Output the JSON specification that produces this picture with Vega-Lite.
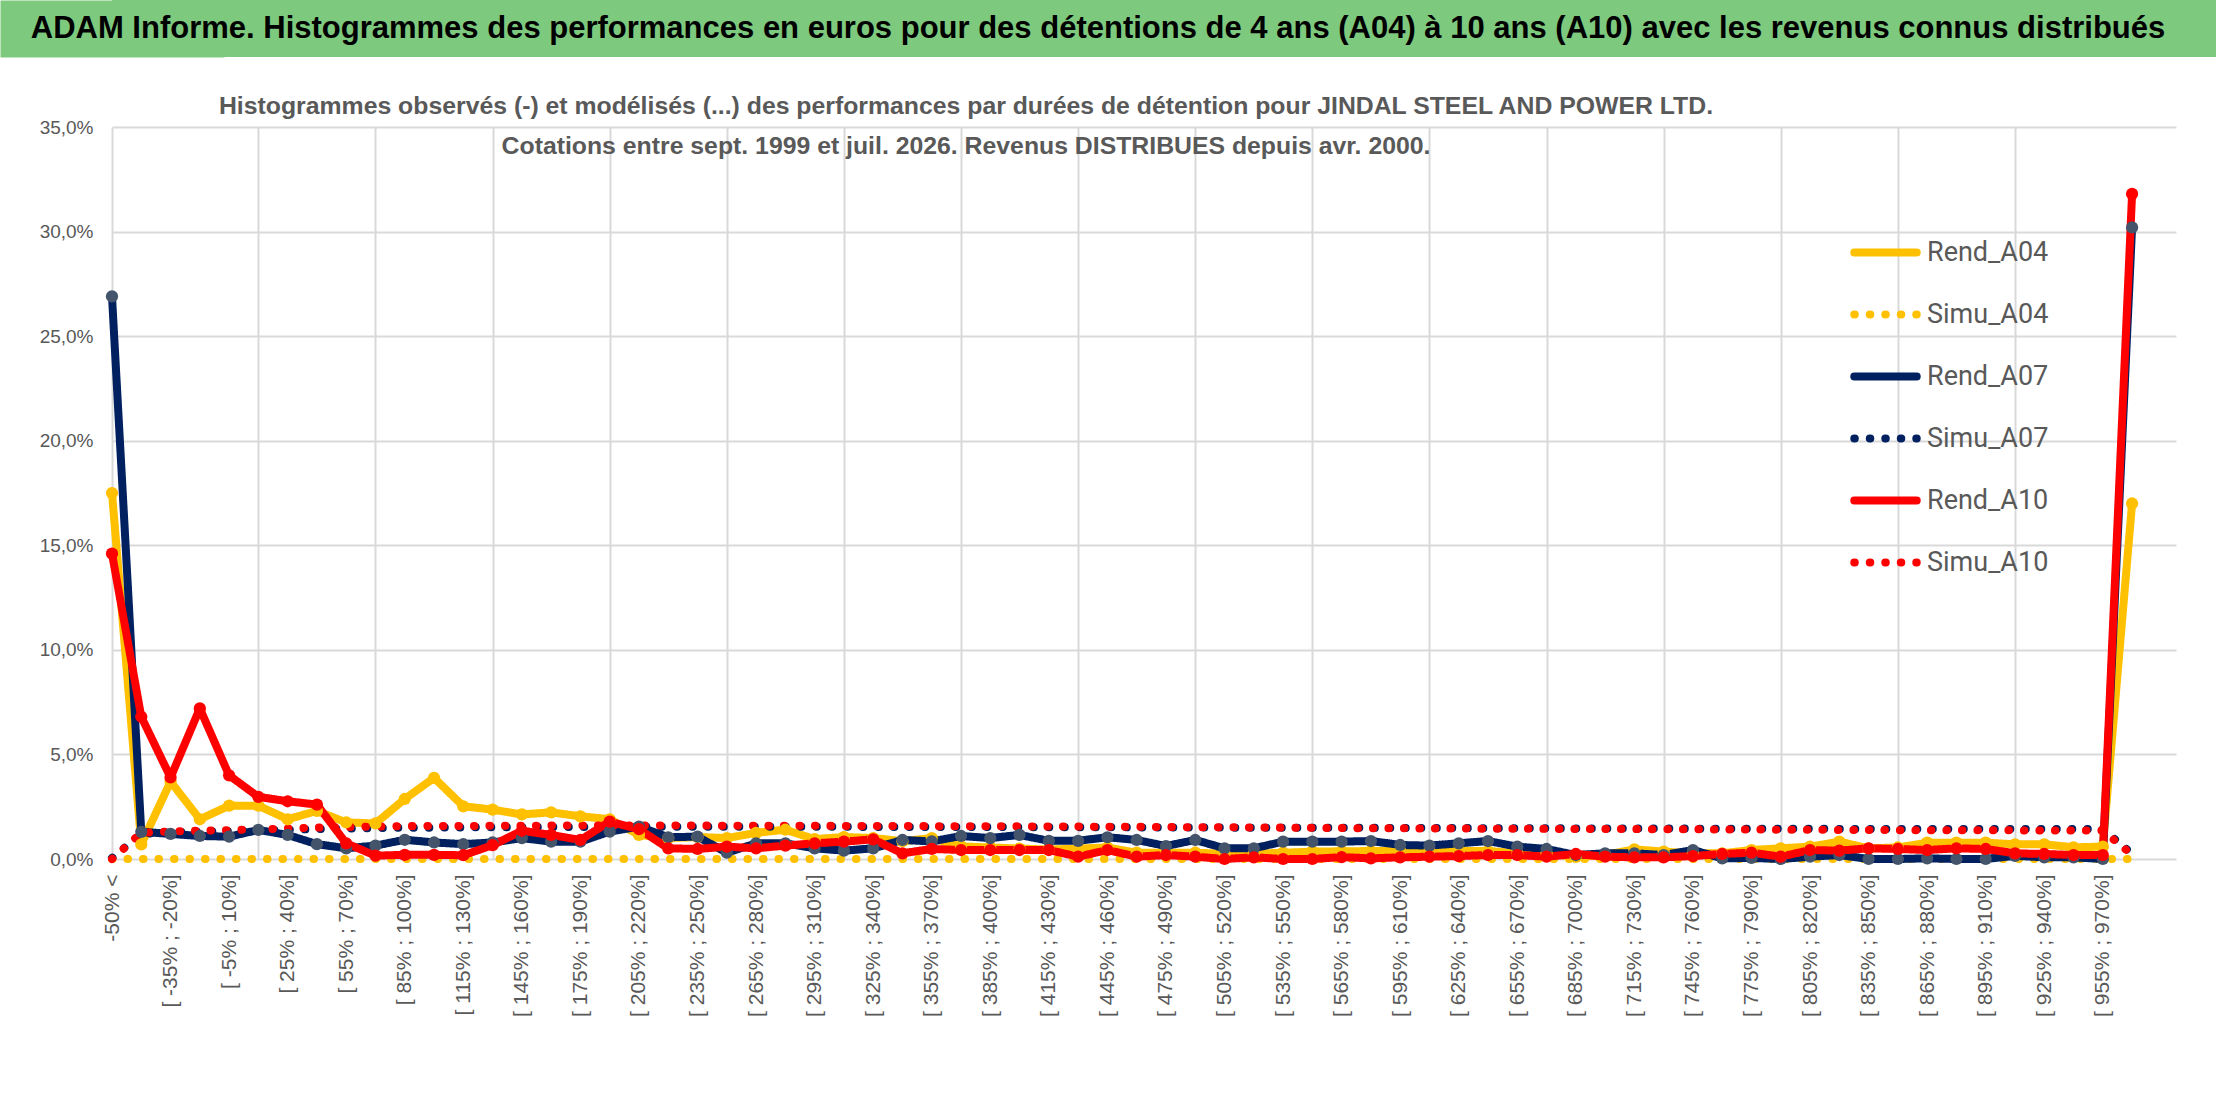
{
  "$schema": "https://vega.github.io/schema/vega-lite/v6.json",
  "background": "white",
  "padding": 0,
  "spacing": 37,
  "config": {
    "view": {"stroke": null},
    "font": "Liberation Sans",
    "axis": {"labelFont": "Liberation Sans", "labelColor": "#595959"}
  },
  "vconcat": [
    {
      "width": 2104,
      "height": 57,
      "view": {"fill": "#7DC97E", "stroke": null},
      "data": {"values": [{"t": "ADAM Informe. Histogrammes des performances en euros pour des détentions de 4 ans (A04) à 10 ans (A10) avec les revenus connus distribués"}]},
      "mark": {"type": "text", "font": "Liberation Sans", "fontWeight": "bold", "fontSize": 31, "color": "black", "dx": -66},
      "encoding": {
        "text": {"field": "t", "type": "nominal"},
        "y": {
          "field": "t",
          "type": "nominal",
          "axis": {"title": null, "labels": false, "ticks": false, "grid": false, "domain": true, "domainColor": "#7DC97E", "domainWidth": 224}
        }
      }
    },
    {
      "width": 2064,
      "height": 732,
      "title": {
        "text": [
          "Histogrammes observés (-) et modélisés (...) des performances par durées de détention pour JINDAL STEEL AND POWER LTD.",
          "Cotations entre sept. 1999 et juil. 2026. Revenus DISTRIBUES depuis avr. 2000."
        ],
        "font": "Liberation Sans",
        "fontSize": 24.8,
        "fontWeight": "bold",
        "color": "#595959",
        "lineHeight": 40,
        "anchor": "middle",
        "frame": "group",
        "dx": -178,
        "offset": -41
      },
      "data": {
        "values": [
          {"c": "-50% <", "Rend_A04": 17.5, "Simu_A04": 0, "Rend_A07": 26.9, "Simu_A07": 0.05, "Rend_A10": 14.6, "Simu_A10": 0.0},
          {"c": "[ -50% ; -35%]", "Rend_A04": 0.7, "Simu_A04": 0, "Rend_A07": 1.3, "Simu_A07": 1.2, "Rend_A10": 6.8, "Simu_A10": 1.25},
          {"c": "[ -35% ; -20%]", "Rend_A04": 3.7, "Simu_A04": 0, "Rend_A07": 1.2, "Simu_A07": 1.28, "Rend_A10": 3.9, "Simu_A10": 1.32},
          {"c": "[ -20% ; -5%]", "Rend_A04": 1.9, "Simu_A04": 0, "Rend_A07": 1.1, "Simu_A07": 1.3, "Rend_A10": 7.2, "Simu_A10": 1.35},
          {"c": "[ -5% ; 10%]", "Rend_A04": 2.55, "Simu_A04": 0, "Rend_A07": 1.07, "Simu_A07": 1.33, "Rend_A10": 4.0, "Simu_A10": 1.38},
          {"c": "[ 10% ; 25%]", "Rend_A04": 2.55, "Simu_A04": 0, "Rend_A07": 1.39, "Simu_A07": 1.36, "Rend_A10": 2.97, "Simu_A10": 1.42},
          {"c": "[ 25% ; 40%]", "Rend_A04": 1.9, "Simu_A04": 0, "Rend_A07": 1.15, "Simu_A07": 1.4, "Rend_A10": 2.76, "Simu_A10": 1.46},
          {"c": "[ 40% ; 55%]", "Rend_A04": 2.3, "Simu_A04": 0, "Rend_A07": 0.71, "Simu_A07": 1.43, "Rend_A10": 2.6, "Simu_A10": 1.5},
          {"c": "[ 55% ; 70%]", "Rend_A04": 1.75, "Simu_A04": 0, "Rend_A07": 0.51, "Simu_A07": 1.46, "Rend_A10": 0.75, "Simu_A10": 1.53},
          {"c": "[ 70% ; 85%]", "Rend_A04": 1.7, "Simu_A04": 0, "Rend_A07": 0.64, "Simu_A07": 1.48, "Rend_A10": 0.16, "Simu_A10": 1.55},
          {"c": "[ 85% ; 100%]", "Rend_A04": 2.87, "Simu_A04": 0, "Rend_A07": 0.92, "Simu_A07": 1.5, "Rend_A10": 0.2, "Simu_A10": 1.57},
          {"c": "[ 100% ; 115%]", "Rend_A04": 3.88, "Simu_A04": 0, "Rend_A07": 0.79, "Simu_A07": 1.5, "Rend_A10": 0.2, "Simu_A10": 1.58},
          {"c": "[ 115% ; 130%]", "Rend_A04": 2.52, "Simu_A04": 0, "Rend_A07": 0.71, "Simu_A07": 1.51, "Rend_A10": 0.18, "Simu_A10": 1.58},
          {"c": "[ 130% ; 145%]", "Rend_A04": 2.36, "Simu_A04": 0, "Rend_A07": 0.79, "Simu_A07": 1.52, "Rend_A10": 0.66, "Simu_A10": 1.59},
          {"c": "[ 145% ; 160%]", "Rend_A04": 2.13, "Simu_A04": 0, "Rend_A07": 1.0, "Simu_A07": 1.52, "Rend_A10": 1.35, "Simu_A10": 1.59},
          {"c": "[ 160% ; 175%]", "Rend_A04": 2.23, "Simu_A04": 0, "Rend_A07": 0.83, "Simu_A07": 1.53, "Rend_A10": 1.15, "Simu_A10": 1.6},
          {"c": "[ 175% ; 190%]", "Rend_A04": 2.04, "Simu_A04": 0, "Rend_A07": 0.83, "Simu_A07": 1.53, "Rend_A10": 0.91, "Simu_A10": 1.6},
          {"c": "[ 190% ; 205%]", "Rend_A04": 1.9, "Simu_A04": 0, "Rend_A07": 1.31, "Simu_A07": 1.54, "Rend_A10": 1.79, "Simu_A10": 1.6},
          {"c": "[ 205% ; 220%]", "Rend_A04": 1.15, "Simu_A04": 0, "Rend_A07": 1.55, "Simu_A07": 1.54, "Rend_A10": 1.43, "Simu_A10": 1.6},
          {"c": "[ 220% ; 235%]", "Rend_A04": 1.0, "Simu_A04": 0, "Rend_A07": 1.04, "Simu_A07": 1.54, "Rend_A10": 0.51, "Simu_A10": 1.6},
          {"c": "[ 235% ; 250%]", "Rend_A04": 1.05, "Simu_A04": 0, "Rend_A07": 1.07, "Simu_A07": 1.54, "Rend_A10": 0.48, "Simu_A10": 1.6},
          {"c": "[ 250% ; 265%]", "Rend_A04": 1.0, "Simu_A04": 0, "Rend_A07": 0.3, "Simu_A07": 1.54, "Rend_A10": 0.59, "Simu_A10": 1.59},
          {"c": "[ 265% ; 280%]", "Rend_A04": 1.25, "Simu_A04": 0, "Rend_A07": 0.75, "Simu_A07": 1.54, "Rend_A10": 0.51, "Simu_A10": 1.59},
          {"c": "[ 280% ; 295%]", "Rend_A04": 1.4, "Simu_A04": 0, "Rend_A07": 0.75, "Simu_A07": 1.54, "Rend_A10": 0.64, "Simu_A10": 1.59},
          {"c": "[ 295% ; 310%]", "Rend_A04": 0.95, "Simu_A04": 0, "Rend_A07": 0.51, "Simu_A07": 1.54, "Rend_A10": 0.75, "Simu_A10": 1.59},
          {"c": "[ 310% ; 325%]", "Rend_A04": 1.05, "Simu_A04": 0, "Rend_A07": 0.4, "Simu_A07": 1.54, "Rend_A10": 0.83, "Simu_A10": 1.58},
          {"c": "[ 325% ; 340%]", "Rend_A04": 1.0, "Simu_A04": 0, "Rend_A07": 0.51, "Simu_A07": 1.53, "Rend_A10": 0.94, "Simu_A10": 1.58},
          {"c": "[ 340% ; 355%]", "Rend_A04": 0.85, "Simu_A04": 0, "Rend_A07": 0.91, "Simu_A07": 1.53, "Rend_A10": 0.27, "Simu_A10": 1.58},
          {"c": "[ 355% ; 370%]", "Rend_A04": 1.0, "Simu_A04": 0, "Rend_A07": 0.84, "Simu_A07": 1.53, "Rend_A10": 0.48, "Simu_A10": 1.57},
          {"c": "[ 370% ; 385%]", "Rend_A04": 0.6, "Simu_A04": 0, "Rend_A07": 1.1, "Simu_A07": 1.53, "Rend_A10": 0.43, "Simu_A10": 1.57},
          {"c": "[ 385% ; 400%]", "Rend_A04": 0.55, "Simu_A04": 0, "Rend_A07": 1.0, "Simu_A07": 1.53, "Rend_A10": 0.43, "Simu_A10": 1.56},
          {"c": "[ 400% ; 415%]", "Rend_A04": 0.5, "Simu_A04": 0, "Rend_A07": 1.15, "Simu_A07": 1.52, "Rend_A10": 0.43, "Simu_A10": 1.56},
          {"c": "[ 415% ; 430%]", "Rend_A04": 0.45, "Simu_A04": 0, "Rend_A07": 0.87, "Simu_A07": 1.52, "Rend_A10": 0.43, "Simu_A10": 1.55},
          {"c": "[ 430% ; 445%]", "Rend_A04": 0.5, "Simu_A04": 0, "Rend_A07": 0.87, "Simu_A07": 1.52, "Rend_A10": 0.11, "Simu_A10": 1.55},
          {"c": "[ 445% ; 460%]", "Rend_A04": 0.55, "Simu_A04": 0, "Rend_A07": 1.04, "Simu_A07": 1.52, "Rend_A10": 0.43, "Simu_A10": 1.54},
          {"c": "[ 460% ; 475%]", "Rend_A04": 0.3, "Simu_A04": 0, "Rend_A07": 0.91, "Simu_A07": 1.51, "Rend_A10": 0.11, "Simu_A10": 1.54},
          {"c": "[ 475% ; 490%]", "Rend_A04": 0.3, "Simu_A04": 0, "Rend_A07": 0.62, "Simu_A07": 1.51, "Rend_A10": 0.19, "Simu_A10": 1.53},
          {"c": "[ 490% ; 505%]", "Rend_A04": 0.3, "Simu_A04": 0, "Rend_A07": 0.91, "Simu_A07": 1.51, "Rend_A10": 0.11, "Simu_A10": 1.52},
          {"c": "[ 505% ; 520%]", "Rend_A04": 0.25, "Simu_A04": 0, "Rend_A07": 0.51, "Simu_A07": 1.5, "Rend_A10": 0.0, "Simu_A10": 1.52},
          {"c": "[ 520% ; 535%]", "Rend_A04": 0.25, "Simu_A04": 0, "Rend_A07": 0.51, "Simu_A07": 1.5, "Rend_A10": 0.08, "Simu_A10": 1.51},
          {"c": "[ 535% ; 550%]", "Rend_A04": 0.3, "Simu_A04": 0, "Rend_A07": 0.83, "Simu_A07": 1.5, "Rend_A10": 0.0, "Simu_A10": 1.5},
          {"c": "[ 550% ; 565%]", "Rend_A04": 0.35, "Simu_A04": 0, "Rend_A07": 0.83, "Simu_A07": 1.49, "Rend_A10": 0.0, "Simu_A10": 1.49},
          {"c": "[ 565% ; 580%]", "Rend_A04": 0.37, "Simu_A04": 0, "Rend_A07": 0.83, "Simu_A07": 1.49, "Rend_A10": 0.09, "Simu_A10": 1.48},
          {"c": "[ 580% ; 595%]", "Rend_A04": 0.38, "Simu_A04": 0, "Rend_A07": 0.86, "Simu_A07": 1.49, "Rend_A10": 0.03, "Simu_A10": 1.47},
          {"c": "[ 595% ; 610%]", "Rend_A04": 0.38, "Simu_A04": 0, "Rend_A07": 0.67, "Simu_A07": 1.48, "Rend_A10": 0.08, "Simu_A10": 1.47},
          {"c": "[ 610% ; 625%]", "Rend_A04": 0.38, "Simu_A04": 0, "Rend_A07": 0.64, "Simu_A07": 1.48, "Rend_A10": 0.11, "Simu_A10": 1.46},
          {"c": "[ 625% ; 640%]", "Rend_A04": 0.38, "Simu_A04": 0, "Rend_A07": 0.75, "Simu_A07": 1.48, "Rend_A10": 0.14, "Simu_A10": 1.46},
          {"c": "[ 640% ; 655%]", "Rend_A04": 0.38, "Simu_A04": 0, "Rend_A07": 0.86, "Simu_A07": 1.47, "Rend_A10": 0.19, "Simu_A10": 1.45},
          {"c": "[ 655% ; 670%]", "Rend_A04": 0.27, "Simu_A04": 0, "Rend_A07": 0.59, "Simu_A07": 1.47, "Rend_A10": 0.19, "Simu_A10": 1.45},
          {"c": "[ 670% ; 685%]", "Rend_A04": 0.27, "Simu_A04": 0, "Rend_A07": 0.48, "Simu_A07": 1.47, "Rend_A10": 0.11, "Simu_A10": 1.44},
          {"c": "[ 685% ; 700%]", "Rend_A04": 0.1, "Simu_A04": 0, "Rend_A07": 0.19, "Simu_A07": 1.46, "Rend_A10": 0.24, "Simu_A10": 1.44},
          {"c": "[ 700% ; 715%]", "Rend_A04": 0.2, "Simu_A04": 0, "Rend_A07": 0.27, "Simu_A07": 1.46, "Rend_A10": 0.11, "Simu_A10": 1.43},
          {"c": "[ 715% ; 730%]", "Rend_A04": 0.46, "Simu_A04": 0, "Rend_A07": 0.27, "Simu_A07": 1.46, "Rend_A10": 0.08, "Simu_A10": 1.43},
          {"c": "[ 730% ; 745%]", "Rend_A04": 0.35, "Simu_A04": 0, "Rend_A07": 0.19, "Simu_A07": 1.46, "Rend_A10": 0.08, "Simu_A10": 1.42},
          {"c": "[ 745% ; 760%]", "Rend_A04": 0.27, "Simu_A04": 0, "Rend_A07": 0.43, "Simu_A07": 1.45, "Rend_A10": 0.14, "Simu_A10": 1.42},
          {"c": "[ 760% ; 775%]", "Rend_A04": 0.27, "Simu_A04": 0, "Rend_A07": 0.03, "Simu_A07": 1.45, "Rend_A10": 0.24, "Simu_A10": 1.41},
          {"c": "[ 775% ; 790%]", "Rend_A04": 0.43, "Simu_A04": 0, "Rend_A07": 0.05, "Simu_A07": 1.45, "Rend_A10": 0.3, "Simu_A10": 1.41},
          {"c": "[ 790% ; 805%]", "Rend_A04": 0.51, "Simu_A04": 0, "Rend_A07": 0.0, "Simu_A07": 1.45, "Rend_A10": 0.11, "Simu_A10": 1.4},
          {"c": "[ 805% ; 820%]", "Rend_A04": 0.59, "Simu_A04": 0, "Rend_A07": 0.11, "Simu_A07": 1.45, "Rend_A10": 0.43, "Simu_A10": 1.4},
          {"c": "[ 820% ; 835%]", "Rend_A04": 0.83, "Simu_A04": 0, "Rend_A07": 0.19, "Simu_A07": 1.44, "Rend_A10": 0.4, "Simu_A10": 1.39},
          {"c": "[ 835% ; 850%]", "Rend_A04": 0.51, "Simu_A04": 0, "Rend_A07": 0.0, "Simu_A07": 1.44, "Rend_A10": 0.51, "Simu_A10": 1.39},
          {"c": "[ 850% ; 865%]", "Rend_A04": 0.55, "Simu_A04": 0, "Rend_A07": 0.0, "Simu_A07": 1.44, "Rend_A10": 0.48, "Simu_A10": 1.38},
          {"c": "[ 865% ; 880%]", "Rend_A04": 0.78, "Simu_A04": 0, "Rend_A07": 0.03, "Simu_A07": 1.44, "Rend_A10": 0.43, "Simu_A10": 1.38},
          {"c": "[ 880% ; 895%]", "Rend_A04": 0.78, "Simu_A04": 0, "Rend_A07": 0.0, "Simu_A07": 1.44, "Rend_A10": 0.51, "Simu_A10": 1.37},
          {"c": "[ 895% ; 910%]", "Rend_A04": 0.78, "Simu_A04": 0, "Rend_A07": 0.0, "Simu_A07": 1.44, "Rend_A10": 0.48, "Simu_A10": 1.37},
          {"c": "[ 910% ; 925%]", "Rend_A04": 0.7, "Simu_A04": 0, "Rend_A07": 0.15, "Simu_A07": 1.44, "Rend_A10": 0.27, "Simu_A10": 1.37},
          {"c": "[ 925% ; 940%]", "Rend_A04": 0.7, "Simu_A04": 0, "Rend_A07": 0.08, "Simu_A07": 1.44, "Rend_A10": 0.24, "Simu_A10": 1.36},
          {"c": "[ 940% ; 955%]", "Rend_A04": 0.56, "Simu_A04": 0, "Rend_A07": 0.08, "Simu_A07": 1.43, "Rend_A10": 0.19, "Simu_A10": 1.36},
          {"c": "[ 955% ; 970%]", "Rend_A04": 0.59, "Simu_A04": 0, "Rend_A07": 0.0, "Simu_A07": 1.43, "Rend_A10": 0.19, "Simu_A10": 1.36},
          {"c": "> 970%", "Rend_A04": 17.0, "Simu_A04": 0, "Rend_A07": 30.2, "Simu_A07": 0.25, "Rend_A10": 31.8, "Simu_A10": 0.2}
        ]
      },
      "transform": [
        {"fold": ["Rend_A04", "Simu_A04", "Rend_A07", "Simu_A07", "Rend_A10", "Simu_A10"], "as": ["serie", "val"]}
      ],
      "resolve": {"axis": {"x": "independent"}},
      "layer": [
        {
          "mark": {"type": "line", "strokeWidth": 8, "strokeCap": "round", "strokeJoin": "round"},
          "encoding": {
            "x": {
              "field": "c",
              "type": "ordinal",
              "sort": null,
              "scale": {"type": "point", "padding": 0.75, "align": 0},
              "axis": {
                "title": null,
                "labelAngle": -90,
                "labelFontSize": 21,
                "labelPadding": 15,
                "ticks": false,
                "domain": false,
                "grid": false,
                "labelOverlap": false,
                "values": ["-50% <", "[ -35% ; -20%]", "[ -5% ; 10%]", "[ 25% ; 40%]", "[ 55% ; 70%]", "[ 85% ; 100%]", "[ 115% ; 130%]", "[ 145% ; 160%]", "[ 175% ; 190%]", "[ 205% ; 220%]", "[ 235% ; 250%]", "[ 265% ; 280%]", "[ 295% ; 310%]", "[ 325% ; 340%]", "[ 355% ; 370%]", "[ 385% ; 400%]", "[ 415% ; 430%]", "[ 445% ; 460%]", "[ 475% ; 490%]", "[ 505% ; 520%]", "[ 535% ; 550%]", "[ 565% ; 580%]", "[ 595% ; 610%]", "[ 625% ; 640%]", "[ 655% ; 670%]", "[ 685% ; 700%]", "[ 715% ; 730%]", "[ 745% ; 760%]", "[ 775% ; 790%]", "[ 805% ; 820%]", "[ 835% ; 850%]", "[ 865% ; 880%]", "[ 895% ; 910%]", "[ 925% ; 940%]", "[ 955% ; 970%]"]
              }
            },
            "y": {
              "field": "val",
              "type": "quantitative",
              "scale": {"domain": [0, 35], "nice": false},
              "axis": {
                "title": null,
                "values": [0, 5, 10, 15, 20, 25, 30, 35],
                "labelExpr": "replace(format(datum.value, '.1f'), '.', ',') + '%'",
                "labelFontSize": 19,
                "labelPadding": 19,
                "ticks": false,
                "domain": false,
                "gridColor": "#D9D9D9",
                "gridWidth": 2,
                "minExtent": 112
              }
            },
            "color": {
              "field": "serie",
              "type": "nominal",
              "sort": null,
              "scale": {
                "domain": ["Rend_A04", "Simu_A04", "Rend_A07", "Simu_A07", "Rend_A10", "Simu_A10"],
                "range": ["#FFC000", "#FFC000", "#002060", "#002060", "#FF0000", "#FF0000"]
              },
              "legend": {
                "title": null,
                "orient": "none",
                "legendX": 1738,
                "legendY": 217,
                "symbolType": "stroke",
                "symbolSize": 3900,
                "symbolStrokeWidth": 8,
                "rowPadding": 10,
                "labelFont": "Roboto",
                "labelFontSize": 27,
                "labelColor": "#595959",
                "labelOffset": 6,
                "encode": {"symbols": {"update": {"strokeCap": {"value": "round"}}}}
              }
            },
            "strokeDash": {
              "field": "serie",
              "type": "nominal",
              "sort": null,
              "scale": {
                "domain": ["Rend_A04", "Simu_A04", "Rend_A07", "Simu_A07", "Rend_A10", "Simu_A10"],
                "range": [[1, 0], [0.5, 15], [1, 0], [0.5, 15], [1, 0], [0.5, 15]]
              },
              "legend": null
            }
          }
        },
        {
          "transform": [{"filter": "indexof(datum.serie, 'Rend') == 0"}],
          "mark": {"type": "circle", "size": 150, "opacity": 1},
          "encoding": {
            "x": {
              "field": "c",
              "type": "ordinal",
              "sort": null,
              "axis": {
                "orient": "top",
                "title": null,
                "labels": false,
                "ticks": false,
                "domain": false,
                "grid": true,
                "gridColor": "#D9D9D9",
                "gridWidth": 2,
                "values": ["-50% <", "[ 10% ; 25%]", "[ 70% ; 85%]", "[ 130% ; 145%]", "[ 190% ; 205%]", "[ 250% ; 265%]", "[ 310% ; 325%]", "[ 370% ; 385%]", "[ 430% ; 445%]", "[ 490% ; 505%]", "[ 550% ; 565%]", "[ 610% ; 625%]", "[ 670% ; 685%]", "[ 730% ; 745%]", "[ 790% ; 805%]", "[ 850% ; 865%]", "[ 910% ; 925%]"]
              }
            },
            "y": {"field": "val", "type": "quantitative"},
            "fill": {
              "field": "serie",
              "type": "nominal",
              "scale": {
                "domain": ["Rend_A04", "Rend_A07", "Rend_A10"],
                "range": ["#FFC000", "#44546A", "#FF0000"]
              },
              "legend": null
            }
          }
        }
      ]
    }
  ]
}
